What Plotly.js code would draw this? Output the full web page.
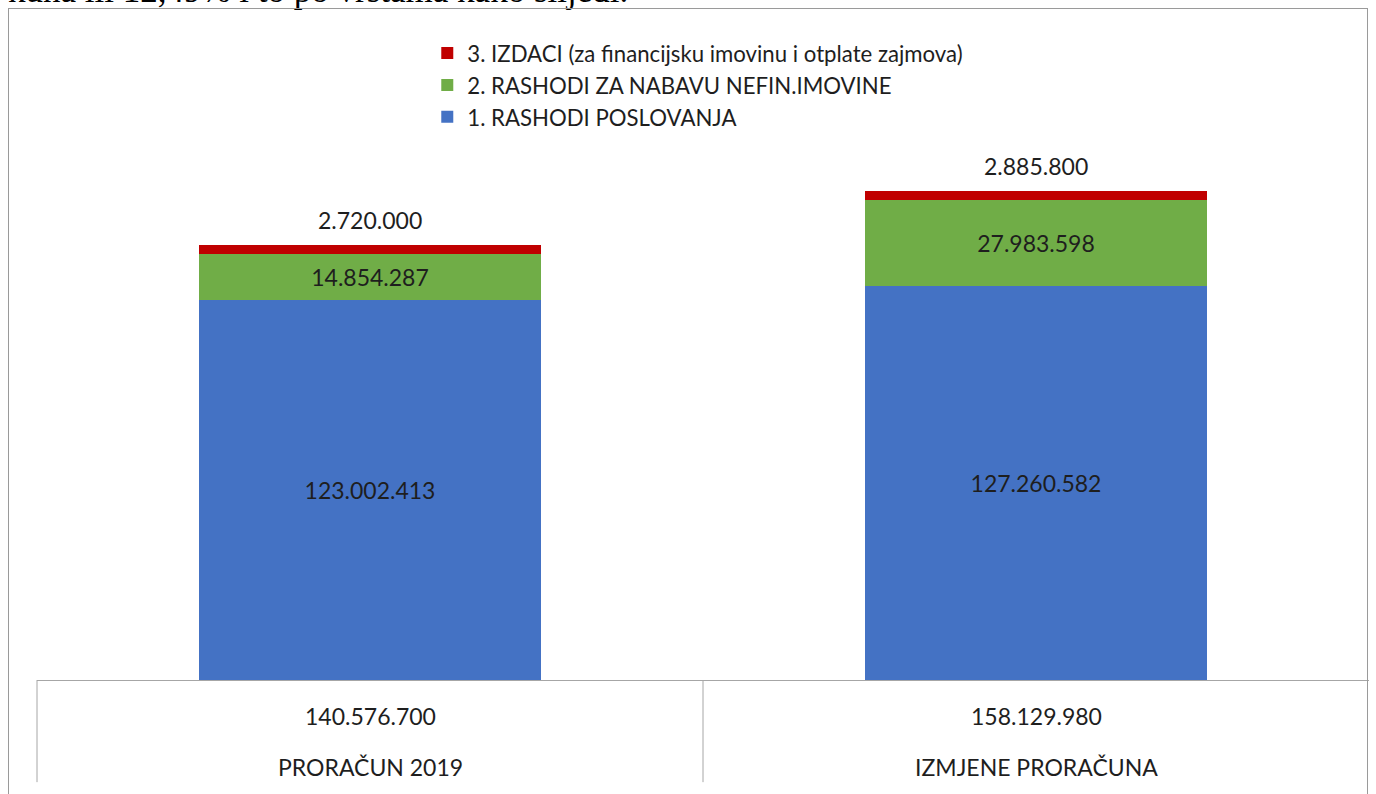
<!DOCTYPE html>
<html>
<head>
<meta charset="utf-8">
<script src="https://cdn.plot.ly/plotly-3.0.1.min.js"></script>
<style>
  html, body { margin: 0; padding: 0; background: #ffffff; overflow: hidden; }
  #wrap { position: relative; width: 1376px; height: 794px; }
  #topline { position: absolute; left: 8px; top: -27px; font-family: "Liberation Serif", "DejaVu Serif", serif; font-size: 35px; line-height: 35px; color: #000; white-space: nowrap; }
  #frame { position: absolute; left: 8px; top: 8px; width: 1360px; height: 800px; border: 1px solid #9a9a9a; box-sizing: border-box; pointer-events: none; }
  #chart { position: absolute; left: 0; top: 0; width: 1376px; height: 794px; }
</style>
</head>
<body>
<div id="wrap">
  <div id="topline">kuna ili 12,49% i to po vrstama kako slijedi.</div>
  <div id="chart"></div>
  <div id="frame"></div>
</div>
<script>
// ---- data ----
const categories = ["PRORAČUN 2019", "IZMJENE PRORAČUNA"];
const seriesNames = [
  "1. RASHODI POSLOVANJA",
  "2. RASHODI ZA NABAVU NEFIN.IMOVINE",
  "3. IZDACI (za financijsku imovinu i otplate zajmova)"
];
const rashodiPoslovanja = [123002413, 127260582];
const rashodiNefinImovine = [14854287, 27983598];
const izdaci = [2720000, 2885800];
const colors = ["#4472C4", "#70AD47", "#C00000"];

function fmt(n) {
  return String(Math.round(n)).replace(/\B(?=(\d{3})+(?!\d))/g, ".");
}

const totals = categories.map((c, i) => rashodiPoslovanja[i] + rashodiNefinImovine[i] + izdaci[i]);

const FONT = "Lato, 'Open Sans', sans-serif";
const TXT = "#1e1e1e";
const LBL = 23;

const traces = [
  {
    type: "bar", name: seriesNames[0], x: categories, y: rashodiPoslovanja,
    marker: { color: colors[0] },
    text: rashodiPoslovanja.map(fmt), textposition: "inside", insidetextanchor: "middle",
    textfont: { family: FONT, size: LBL, color: TXT }, constraintext: "none",
    hoverinfo: "skip"
  },
  {
    type: "bar", name: seriesNames[1], x: categories, y: rashodiNefinImovine,
    marker: { color: colors[1] },
    text: rashodiNefinImovine.map(fmt), textposition: "inside", insidetextanchor: "middle",
    textfont: { family: FONT, size: LBL, color: TXT }, constraintext: "none",
    hoverinfo: "skip"
  },
  {
    type: "bar", name: seriesNames[2], x: categories, y: izdaci,
    marker: { color: colors[2] },
    textposition: "none", hoverinfo: "skip"
  }
];

const annotations = [];
categories.forEach((c, i) => {
  annotations.push({
    x: c, y: totals[i], xref: "x", yref: "y", text: fmt(izdaci[i]),
    showarrow: false, yanchor: "bottom", yshift: 9,
    font: { family: FONT, size: LBL, color: TXT }
  });
  annotations.push({
    x: c, y: -0.0536, xref: "x", yref: "paper", text: fmt(totals[i]),
    showarrow: false, yanchor: "middle",
    font: { family: FONT, size: LBL, color: TXT }
  });
  annotations.push({
    x: c, y: -0.1295, xref: "x", yref: "paper", text: c,
    showarrow: false, yanchor: "middle",
    font: { family: FONT, size: LBL, color: TXT }
  });
});

const lineCol = "#a6a6a6";
const shapes = [0, 0.5].map(px => ({
  type: "line", xref: "paper", yref: "paper", x0: px, x1: px, y0: 0, y1: -0.152,
  line: { color: lineCol, width: 1 }
}));

const layout = {
  width: 1376, height: 794,
  margin: { l: 37, r: 7, t: 8, b: 114, pad: 0 },
  paper_bgcolor: "rgba(0,0,0,0)", plot_bgcolor: "rgba(0,0,0,0)",
  barmode: "stack", bargap: 0.486,
  showlegend: true,
  legend: {
    x: 0.293, xanchor: "left", y: 0.964, yanchor: "top",
    traceorder: "reversed",
    font: { family: FONT, size: 22.2, color: TXT },
    bgcolor: "rgba(0,0,0,0)"
  },
  xaxis: {
    type: "category", range: [-0.5, 1.5], showline: true, linecolor: lineCol, linewidth: 1,
    showticklabels: false, ticks: "", showgrid: false, zeroline: false, fixedrange: true
  },
  yaxis: {
    range: [0, 217.26e6], showticklabels: false, showgrid: false, zeroline: false,
    showline: false, ticks: "", fixedrange: true
  },
  annotations: annotations,
  shapes: shapes,
  font: { family: FONT, color: TXT }
};

Plotly.newPlot("chart", traces, layout, { displayModeBar: false, staticPlot: true });
</script>
</body>
</html>
